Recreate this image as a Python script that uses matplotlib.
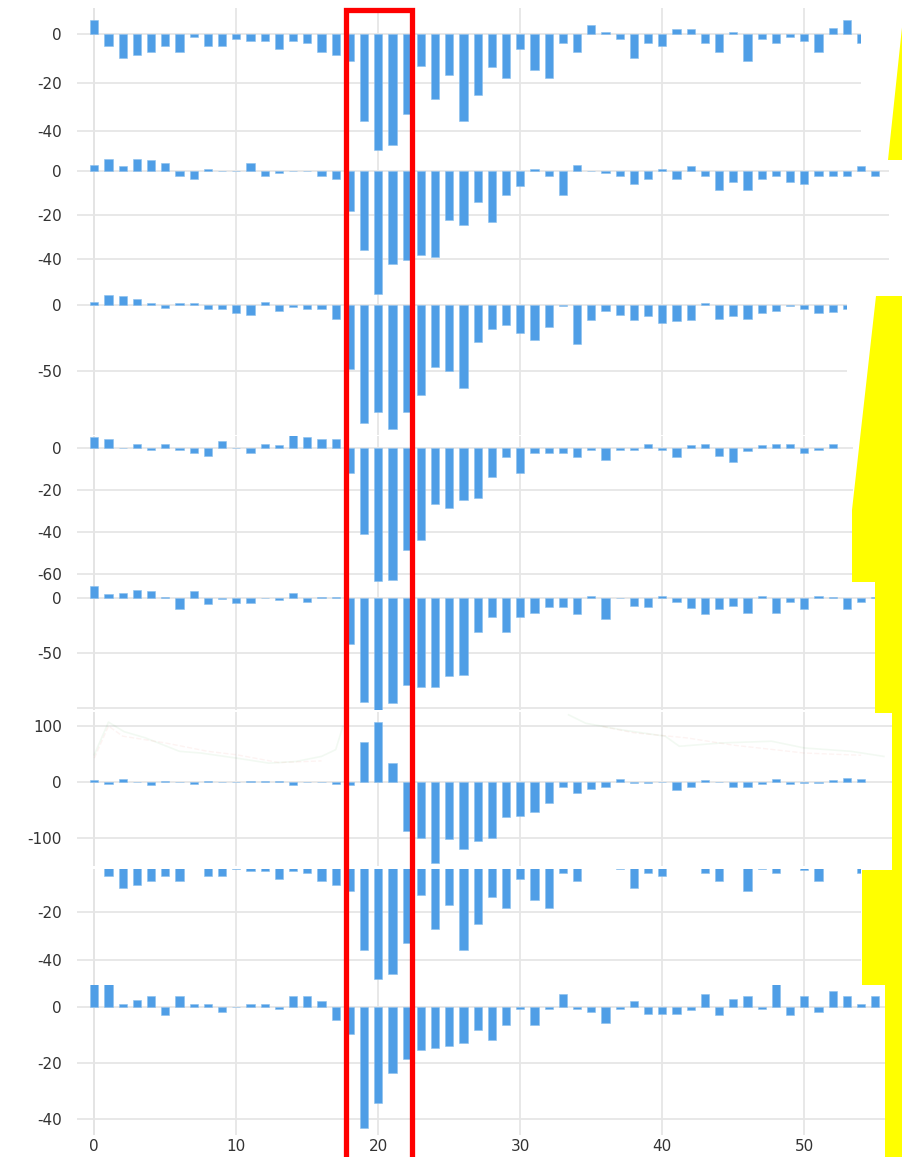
import numpy as np
import matplotlib
matplotlib.use("Agg")
import matplotlib.pyplot as plt
from matplotlib.patches import Rectangle, Polygon

# ---------------- data ----------------
panel1_values = [6, -5, -10, -8.7, -7.2, -4.8, -7.2, -1, -5, -5, -2, -2.8, -2.8, -6, -2.8, -3.7, -7.2, -8.7,
                 -11, -35.9, -48, -45.7, -33, -13, -27, -17, -35.9, -25, -13.7, -18.3, -6, -14.8, -18.3,
                 -3.7, -7.2, 3.9, 1.1, -2, -10, -3.7, -4.8, 2.2, 2.2, -3.7, -7.2, 1.1, -11, -2, -3.7, -1,
                 -2.6, -7.2, 2.8, 6, -3.7]
panel2_values = [2.6, 5.3, 2.1, 5.3, 4.8, 3.6, -2.7, -3.9, 0.9, 0, 0, 3.6, -2.7, -1.2, 0, 0, -2.3, -3.9,
                 -18.2, -35.8, -55.8, -42.1, -40.3, -38, -39.2, -22.3, -24.5, -14, -23.3, -11.1, -7.2, 0.9,
                 -2.7, -11.1, 2.6, 0, -1.2, -2.3, -6.2, -3.9, 0.9, -3.9, 2.1, -2.7, -9, -5.1, -9, -3.9,
                 -2.3, -5.1, -6.2, -2.3, -2.3, -2.7, 2.1, -2.3]
panel3_values = [2, 7.3, 6.5, 4.3, 1.3, -2.3, 1.3, 1.3, -3.5, -3.5, -6.5, -7.5, 2.3, -4.5, -1.5, -3.5, -3.5,
                 -10.6, -48.7, -88.7, -80.7, -93.5, -80.7, -67.6, -46.5, -49.5, -62.6, -28.4, -18.6, -15.3,
                 -21.6, -26.6, -16.6, -0.8, -29.6, -11.6, -4.5, -7.5, -11.6, -8.5, -13.6, -12.6, -11.6, 1.3,
                 -10.6, -8.5, -10.6, -6.5, -4.5, -0.8, -3.5, -6.5, -5.5, -3.5]
panel4_values = [4.9, 4.3, 0, 1.7, -0.9, 1.7, -0.9, -2.7, -3.9, 3, 0, -2.7, 1.7, 1.1, 6, 4.9, 4.3, 4.3,
                 -11.8, -40.8, -63.3, -62.8, -48.3, -43.6, -26.8, -28.7, -25, -23.9, -13.7, -4.6, -11.8,
                 -2.7, -2.7, -2.7, -4.6, -0.9, -5.8, -0.9, -0.9, 1.7, -0.9, -4.6, 1.1, 1.7, -3.9, -6.9,
                 -1.6, 1.1, 1.7, 1.7, -2.7, -0.9, 1.7]
panel5_values = [11.5, 3.6, 4.8, 7.9, 7, 1.5, -9.7, 7, -5.2, -0.9, -3.9, -3.9, 0, -1.8, 4.5, -3, 1.2, 1.2,
                 -41.5, -94.5, -101.2, -95.5, -78.5, -80.9, -80.9, -70.5, -69.7, -30.3, -16.7, -30.3,
                 -16.7, -13.3, -7.6, -7.6, -14.5, 2.4, -18.8, 0, -6.7, -7.6, 2.4, -3, -8.8, -14.5, -10,
                 -6.7, -13.3, 2.4, -13.3, -3, -10, 2.4, 1.2, -10, -3, 1]
panel6_values = [4, -3, 6, 0, -5.4, 2.4, 1, -2.4, 2.4, 0, 1, 2.4, 2.4, 2.4, -5.4, 0, 0, -3, -5.4, 72, 107.7,
                 34, -87.5, -99.4, -143.5, -101.8, -119.6, -105.4, -99.4, -61.3, -60.1, -53.6, -37.5, -7.7,
                 -19.6, -11.9, -7.7, 6, -1, -1, 0, -13.7, -7.7, 3.6, 0, -7.7, -7.7, -3.6, 6, -3.6, -1.5,
                 -1.5, 3.6, 7.7, 6]
panel7_values = [6, -5, -10, -8.7, -7.2, -4.8, -7.2, -1, -5, -5, -2, -2.8, -2.8, -6, -2.8, -3.7, -7.2, -8.7,
                 -11, -35.9, -48, -45.7, -33, -13, -27, -17, -35.9, -25, -13.7, -18.3, -6, -14.8, -18.3,
                 -3.7, -7.2, 3.9, 1.1, -2, -10, -3.7, -4.8, 2.2, 2.2, -3.7, -7.2, 1.1, -11, -2, -3.7, -1,
                 -2.6, -7.2, 2.8, 6, -3.7]
panel8_values = [8.6, 8.6, 1, 2.5, 3.9, -2.9, 3.9, 1, 1, -1.8, 0, 1, 1, -0.5, 3.9, 3.9, 2.1, -4.6, -9.6,
                 -43.2, -34.3, -23.6, -18.6, -15.4, -14.6, -13.9, -12.9, -8.2, -11.8, -6.4, -0.5, -6.4,
                 -0.5, 4.6, -0.5, -1.8, -5.7, -0.5, 2.1, -2.5, -2.5, -2.5, -1, 4.6, -2.9, 2.9, 3.9, -0.5,
                 8.6, -2.9, 3.9, -1.8, 5.7, 3.9, 1, 3.9, 1]

# faint ghost lines seen in panel 6
ghost_green_x = [0, 1, 2.1, 3.6, 6, 7.5, 10, 12.3, 14.2, 16, 17, 17.5, np.nan, 33.4, 34.6, 37.2, 40.2, 41.2,
                 44.2, 47.7, 50, 53.3, 55.6]
ghost_green_y = [49, 107, 90, 79, 55, 52, 43, 34, 37, 46, 58, 99, np.nan, 120, 105, 93, 82, 64, 70, 73, 61,
                 55, 46]
ghost_red_x = [0, 1, 2, 5, 8, 10, 13, 16, np.nan, 35.8, 38, 41.7, 45, 50, 54]
ghost_red_y = [43, 100, 82, 70, 55, 49, 35, 38, np.nan, 99, 88, 79, 66, 52, 48]

x_ticks = [0, 10, 20, 30, 40, 50]
x_tick_labels = ["0", "10", "20", "30", "40", "50"]

panel_yticks = [[0, -20, -40], [0, -20, -40], [0, -50], [0, -20, -40, -60], [0, -50, -100],
                [100, 0, -100], [-20, -40], [0, -20, -40]]
panel_yticklabels = [["0", "-20", "-40"], ["0", "-20", "-40"], ["0", "-50"], ["0", "-20", "-40", "-60"],
                     ["0", "-50", ""], ["100", "0", "-100"], ["-20", "-40"], ["0", "-20", "-40"]]

highlight_start, highlight_end = 17.73, 22.38

# ---------------- layout (pixels) ----------------
W, H = 903, 1157
X0_PX, PX_PER_UNIT = 94.3, 14.2
XLEFT = -1.2
# (top_px, bottom_px, ylim_top, ylim_bottom, xlim_right)
layout = [
    (8, 155, 10.9, -50.0, 54.0),
    (155, 295, 7.0, -56.2, 56.0),
    (295, 435, 7.3, -98.0, 53.0),
    (436, 585, 5.5, -65.0, 53.4),
    (585, 710, 12.0, -101.5, 55.5),
    (712, 866, 125.0, -149.0, 56.2),
    (869, 985, -2.0, -50.4, 54.0),
    (985, 1135, 7.9, -45.7, 56.5),
]
panels = [panel1_values, panel2_values, panel3_values, panel4_values,
          panel5_values, panel6_values, panel7_values, panel8_values]

BAR_COLOR = "#4f9ee6"
GRID_COLOR = "#e6e6e6"
TEXT_COLOR = "#333333"

plt.rcParams['font.family'] = ['DejaVu Sans']
fig = plt.figure(figsize=(W / 100, H / 100), dpi=100)

axes = []
for k, (vals, (top, bot, yt, yb, xr)) in enumerate(zip(panels, layout)):
    left_px = X0_PX + XLEFT * PX_PER_UNIT
    right_px = X0_PX + xr * PX_PER_UNIT
    ax = fig.add_axes([left_px / W, 1 - bot / H, (right_px - left_px) / W, (bot - top) / H])
    ax.set_xlim(XLEFT, xr)
    ax.set_ylim(yb, yt)
    xs = np.arange(len(vals))
    ax.bar(xs, vals, width=0.58, color=BAR_COLOR, edgecolor="#8cc0ee", linewidth=0.4, zorder=3)
    if k == 5:
        ax.plot(ghost_green_x, ghost_green_y, color="#2ca02c", alpha=0.06, lw=1.2, zorder=2)
        ax.plot(ghost_red_x, ghost_red_y, color="#e0402a", alpha=0.06, lw=1.0, ls="--", zorder=2)
    ax.set_yticks(panel_yticks[k])
    ax.set_yticklabels(panel_yticklabels[k])
    ax.set_xticks(x_ticks)
    if k == 7:
        ax.set_xticklabels(x_tick_labels)
    else:
        ax.set_xticklabels([])
    ax.grid(True, color=GRID_COLOR, linewidth=1.3, zorder=0)
    ax.axvline(0, color="#d2d2d2", linewidth=1.4, zorder=1)
    for s in ax.spines.values():
        s.set_visible(False)
    ax.tick_params(length=0, labelsize=11, labelcolor=TEXT_COLOR, pad=11)
    ax.tick_params(axis="x", pad=3)
    ax.set_facecolor("none")
    axes.append(ax)

# ---------------- red highlight box ----------------
fig.canvas.draw()
ax_ref = axes[-1]
to_fig = fig.transFigure.inverted()
xa = to_fig.transform(ax_ref.transData.transform((highlight_start, 0)))[0]
xb = to_fig.transform(ax_ref.transData.transform((highlight_end, 0)))[0]
y_top = 1 - 10 / H
fig.patches.append(Rectangle((xa, -0.05), xb - xa, y_top + 0.05, transform=fig.transFigure,
                             fill=False, edgecolor="#ff0000", linewidth=3.8, zorder=10))

# ---------------- yellow overlay shapes (figure pixels) ----------------
yellow_shapes = [
    [(888, 160), (903, 18), (903, 160)],
    [(876, 296), (903, 296), (903, 582), (852, 582), (852, 510)],
    [(875, 582), (903, 582), (903, 713), (875, 713)],
    [(892, 713), (903, 713), (903, 870), (892, 870)],
    [(862, 870), (903, 870), (903, 985), (862, 985)],
    [(885, 985), (903, 985), (903, 1157), (885, 1157)],
]
for shp in yellow_shapes:
    pts = [(px / W, 1 - py / H) for px, py in shp]
    fig.patches.append(Polygon(pts, closed=True, transform=fig.transFigure,
                               facecolor="#ffff00", edgecolor="none", zorder=9))

fig.savefig("out.png", dpi=100)
